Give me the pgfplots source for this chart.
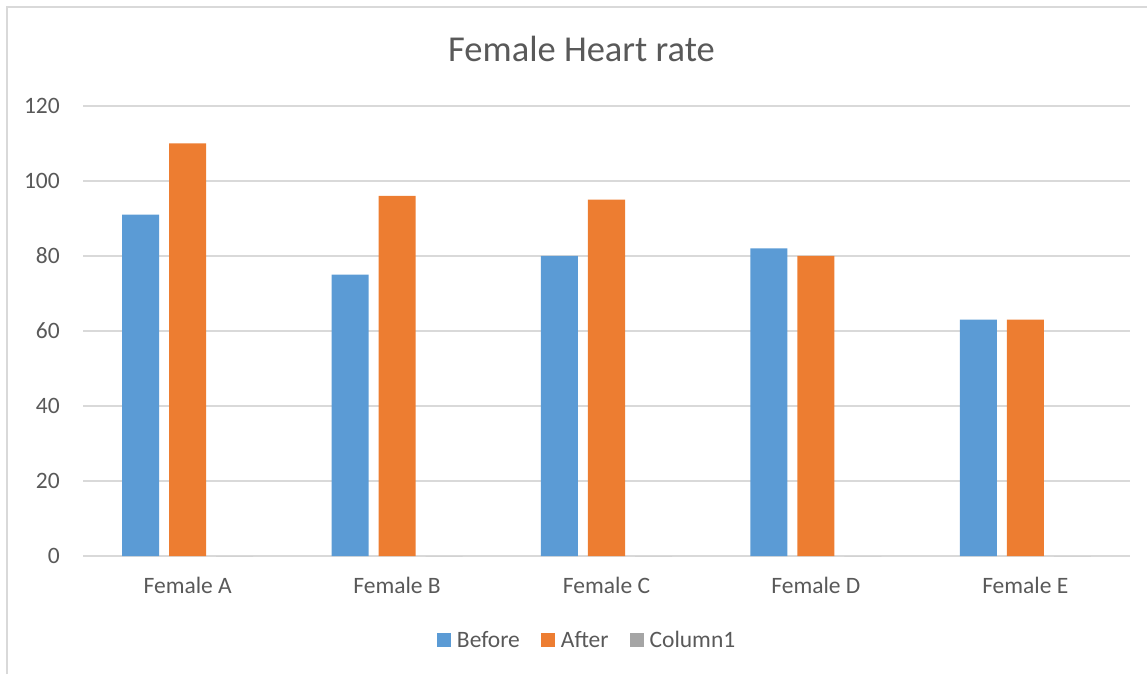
\documentclass[border=0pt]{standalone}
\usepackage{fontspec}
\setmainfont{Carlito}
\usepackage{pgfplots}
\pgfplotsset{compat=1.18}
\definecolor{cblue}{HTML}{5B9BD5}
\definecolor{corange}{HTML}{ED7D31}
\definecolor{cgray}{HTML}{A5A5A5}
\definecolor{gridc}{HTML}{D9D9D9}
\definecolor{txt}{HTML}{595959}
\begin{document}
\begin{tikzpicture}[x=1pt,y=1pt]
\useasboundingbox (0,0) rectangle (1147,674);
\draw[gridc, line width=1.3pt] (7,0) -- (7,667) -- (1147,667);
\node[anchor=base, text=txt, font=\fontsize{36.5}{42}\selectfont, inner sep=0pt] at (581.5,612) {Female Heart rate};
\begin{axis}[
  at={(83pt,118pt)}, anchor=south west,
  scale only axis, width=1047pt, height=450pt,
  xmin=-0.5, xmax=4.5, ymin=0, ymax=120,
  ytick={0,20,...,120},
  xtick={0,1,2,3,4},
  xticklabels={Female A,Female B,Female C,Female D,Female E},
  /pgf/number format/assume math mode=true,
  ybar=10pt, bar width=37pt,
  axis x line*=bottom, axis y line*=left,
  y axis line style={draw=none},
  x axis line style={gridc, line width=1.3pt},
  major tick length=0pt, tick style={draw=none},
  ymajorgrids, grid style={gridc, line width=1.3pt},
  ticklabel style={text=txt, font=\fontsize{23.5}{28}\selectfont},
  yticklabel style={anchor=east, inner sep=0pt, xshift=-23pt},
  xticklabel style={anchor=base, inner sep=0pt, yshift=-37pt},
  legend style={at={(0.4815,-0.187)}, anchor=center, draw=none, fill=none,
    legend columns=3, font=\fontsize{23.5}{28}\selectfont, text=txt,
    /tikz/every even column/.append style={column sep=19pt},
    /tikz/every odd column/.append style={column sep=4pt}},
  legend image code/.code={\fill[#1] (0pt,-7pt) rectangle (14pt,7pt);},
]
\addplot[fill=cblue, draw=none] coordinates {(0,91) (1,75) (2,80) (3,82) (4,63)};
\addplot[fill=corange, draw=none] coordinates {(0,110) (1,96) (2,95) (3,80) (4,63)};
\addplot[fill=cgray, draw=none] coordinates {(0,0) (1,0) (2,0) (3,0) (4,0)};
\legend{Before,After,Column1}
\end{axis}
\end{tikzpicture}
\end{document}
